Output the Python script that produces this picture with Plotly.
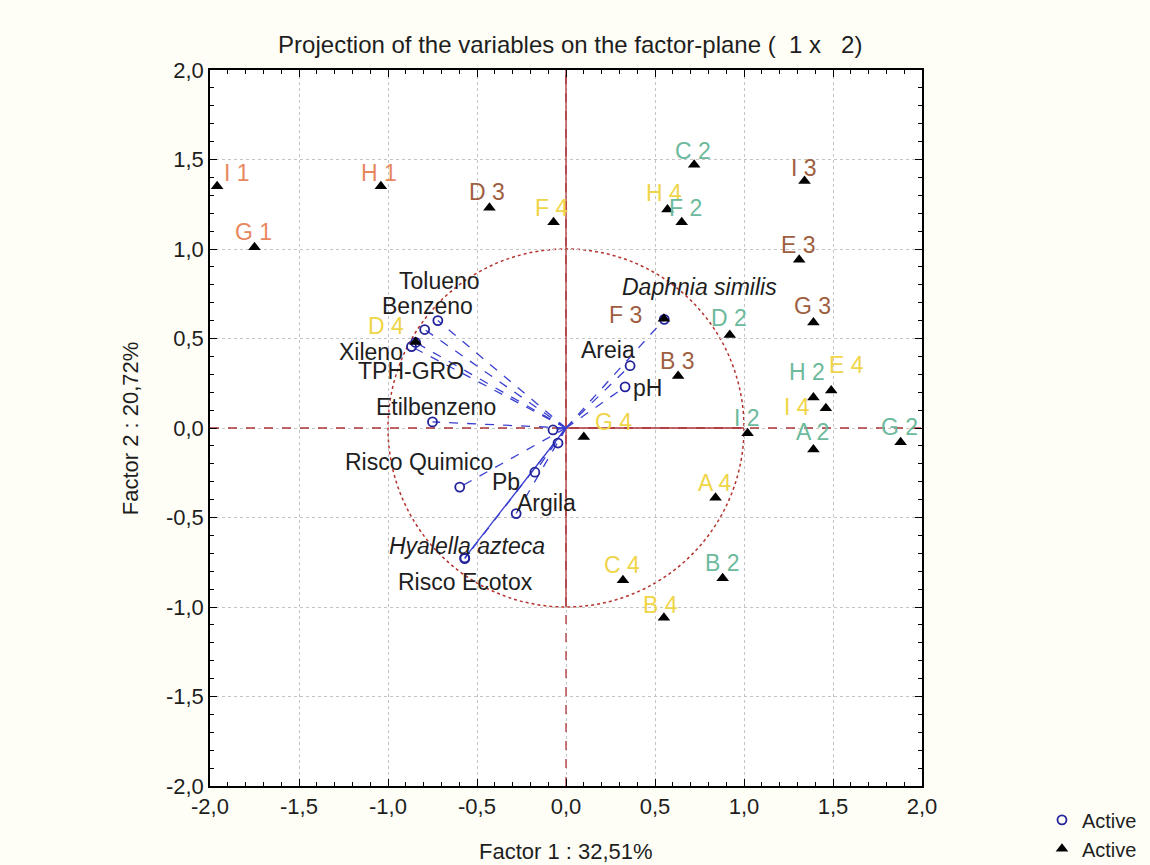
import plotly.graph_objects as go

# ---------------- data ----------------
case_names = ["I 1", "G 1", "H 1", "D 3", "F 4", "C 2", "H 4", "F 2", "I 3", "E 3", "G 3", "D 2", "F 3",
              "D 4", "B 3", "H 2", "E 4", "I 4", "I 2", "A 2", "G 2", "G 4", "A 4", "C 4", "B 2", "B 4"]
case_f1 = [-1.96, -1.75, -1.04, -0.43, -0.07, 0.72, 0.57, 0.65, 1.34, 1.31, 1.39, 0.92, 0.55,
           -0.845, 0.63, 1.39, 1.49, 1.46, 1.02, 1.39, 1.88, 0.10, 0.84, 0.32, 0.88, 0.55]
case_f2 = [1.35, 1.01, 1.35, 1.23, 1.15, 1.47, 1.22, 1.15, 1.38, 0.94, 0.59, 0.52, 0.61,
           0.48, 0.29, 0.17, 0.21, 0.11, -0.03, -0.12, -0.08, -0.05, -0.39, -0.85, -0.84, -1.06]

var_names = ["Tolueno", "Benzeno", "Xileno", "TPH-GRO", "Etilbenzeno", "Risco Quimico", "Pb", "Argila",
             "Hyalella azteca", "Risco Ecotox", "Daphnia similis", "Areia", "pH", "", ""]
var_f1 = [-0.72, -0.794, -0.868, -0.845, -0.75, -0.597, -0.175, -0.28,
          -0.569, -0.569, 0.552, 0.36, 0.332, -0.073, -0.045]
var_f2 = [0.60, 0.55, 0.455, 0.478, 0.034, -0.33, -0.247, -0.478,
          -0.725, -0.73, 0.607, 0.348, 0.23, -0.011, -0.084]

x_ticks = [-2.0, -1.5, -1.0, -0.5, 0.0, 0.5, 1.0, 1.5, 2.0]
y_ticks = [-2.0, -1.5, -1.0, -0.5, 0.0, 0.5, 1.0, 1.5, 2.0]
x_ticktext = ["-2,0", "-1,5", "-1,0", "-0,5", "0,0", "0,5", "1,0", "1,5", "2,0"]
y_ticktext = ["-2,0", "-1,5", "-1,0", "-0,5", "0,0", "0,5", "1,0", "1,5", "2,0"]

title_text = "Projection of the variables on the factor-plane (  1 x   2)"
x_title = "Factor 1 : 32,51%"
y_title = "Factor 2 : 20,72%"

# ---------------- styles ----------------
FONT = "Arial, Liberation Sans, sans-serif"
group_colors = {"1": "#E8875E", "2": "#6CB99C", "3": "#9E5E40", "4": "#EFD548"}
case_offsets = {  # label offsets in pixels (dx, dy screen-down)
    "I 1": (20, -13), "G 1": (-1, -15), "H 1": (-2, -13), "D 3": (-2, -16), "F 4": (-2, -14),
    "C 2": (-1, -14), "H 4": (-3, -17), "F 2": (4, -14), "I 3": (-1, -13), "E 3": (-1, -15),
    "G 3": (-1, -16), "D 2": (-1, -17), "F 3": (-38, -4), "D 4": (-30, -16), "B 3": (-1, -15),
    "H 2": (-6, -26), "E 4": (15, -25), "I 4": (-29, -1), "I 2": (-1, -15), "A 2": (-1, -17),
    "G 2": (-1, -15), "G 4": (30, -15), "A 4": (-1, -15), "C 4": (-1, -15), "B 2": (0, -15),
    "B 4": (-3, -13)}
var_offsets = {
    "Tolueno": (2, -40), "Benzeno": (3, -24), "Xileno": (-41, 5), "TPH-GRO": (-5, 29),
    "Etilbenzeno": (3, -15), "Risco Quimico": (-41, -25), "Pb": (-29, 10), "Argila": (30, -11),
    "Hyalella azteca": (2, -12), "Risco Ecotox": (1, 23), "Daphnia similis": (35, -32),
    "Areia": (-22, -16), "pH": (22, 1)}
italic_vars = {"Hyalella azteca", "Daphnia similis"}
solid_vars = {"Hyalella azteca"}

AXIS_RED = "#AC3538"
LINE_BLUE = "#3A3FCF"
MARK_BLUE = "#22229A"
TEXT = "#1e1e1e"

fig = go.Figure()

# zero lines (dashed full + solid parts)
fig.add_trace(go.Scatter(x=[-2, 2], y=[0, 0], mode="lines", showlegend=False, hoverinfo="skip",
                         line=dict(color=AXIS_RED, width=1.3, dash="dash")))
fig.add_trace(go.Scatter(x=[0, 0], y=[-2, 2], mode="lines", showlegend=False, hoverinfo="skip",
                         line=dict(color=AXIS_RED, width=1.3, dash="dash")))
fig.add_trace(go.Scatter(x=[0, 0], y=[-1, 2], mode="lines", showlegend=False, hoverinfo="skip",
                         line=dict(color=AXIS_RED, width=1.3)))
fig.add_trace(go.Scatter(x=[0, 1], y=[0, 0], mode="lines", showlegend=False, hoverinfo="skip",
                         line=dict(color=AXIS_RED, width=1.3)))

# vectors
dx, dy, sx, sy = [], [], [], []
for n, a, b in zip(var_names, var_f1, var_f2):
    if n in solid_vars:
        sx += [0, a, None]
        sy += [0, b, None]
    else:
        dx += [0, a, None]
        dy += [0, b, None]
fig.add_trace(go.Scatter(x=dx, y=dy, mode="lines", showlegend=False, hoverinfo="skip",
                         line=dict(color=LINE_BLUE, width=1.3, dash="dash")))
fig.add_trace(go.Scatter(x=sx, y=sy, mode="lines", showlegend=False, hoverinfo="skip",
                         line=dict(color=LINE_BLUE, width=1.3)))

# variable points
fig.add_trace(go.Scatter(x=var_f1, y=var_f2, mode="markers", name="Active",
                         marker=dict(symbol="circle-open", size=9, color=MARK_BLUE,
                                     line=dict(width=1.8, color=MARK_BLUE))))
# case points
fig.add_trace(go.Scatter(x=case_f1, y=case_f2, mode="markers", name="Active",
                         marker=dict(symbol="triangle-up", size=11, color="black")))

annotations = []
for n, a, b in zip(case_names, case_f1, case_f2):
    ox, oy = case_offsets[n]
    annotations.append(dict(x=a, y=b, text=n, showarrow=False, xshift=ox, yshift=-oy,
                            font=dict(family=FONT, size=23, color=group_colors[n[-1]])))
for n, a, b in zip(var_names, var_f1, var_f2):
    if not n:
        continue
    ox, oy = var_offsets[n]
    t = "<i>%s</i>" % n if n in italic_vars else n
    annotations.append(dict(x=a, y=b, text=t, showarrow=False, xshift=ox, yshift=-oy,
                            font=dict(family=FONT, size=23, color=TEXT)))

# titles as annotations
annotations.append(dict(xref="paper", yref="paper", x=0.5, y=-0.092, text=x_title, showarrow=False,
                        yanchor="middle", font=dict(family=FONT, size=22, color=TEXT)))
annotations.append(dict(xref="paper", yref="paper", x=-0.112, y=0.5, text=y_title, showarrow=False,
                        textangle=-90, xanchor="center", font=dict(family=FONT, size=22, color=TEXT)))

fig.update_layout(
    width=1150, height=865,
    margin=dict(l=210, r=228, t=70, b=79, autoexpand=False),
    paper_bgcolor="#FEFEF7", plot_bgcolor="white",
    title=dict(text=title_text, x=0.506, xref="paper", y=1 - 45 / 865, yanchor="middle",
               font=dict(family=FONT, size=24, color=TEXT)),
    font=dict(family=FONT, size=21, color=TEXT),
    annotations=annotations,
    shapes=[dict(type="circle", xref="x", yref="y", x0=-1, y0=-1, x1=1, y1=1,
                 line=dict(color="#B5322F", width=1.5, dash="dot"), layer="below")],
    legend=dict(x=1.1685, y=-0.02, xanchor="left", yanchor="top", bgcolor="rgba(0,0,0,0)",
                font=dict(family=FONT, size=20, color=TEXT), tracegroupgap=0, itemwidth=30),
)
axis_common = dict(range=[-2, 2], showline=True, linecolor="black", linewidth=1.5, mirror="allticks",
                   ticks="inside", ticklen=7, tickcolor="black",
                   showgrid=True, gridcolor="#C4C4C4", griddash="dot", gridwidth=1, zeroline=False,
                   tickfont=dict(family=FONT, size=22, color=TEXT),
                   minor=dict(ticks="inside", dtick=0.1, ticklen=4, tickcolor="black", showgrid=False))
fig.update_xaxes(tickvals=x_ticks, ticktext=x_ticktext, **axis_common)
fig.update_yaxes(tickvals=y_ticks, ticktext=y_ticktext, **axis_common)

fig.write_html("out.html")
